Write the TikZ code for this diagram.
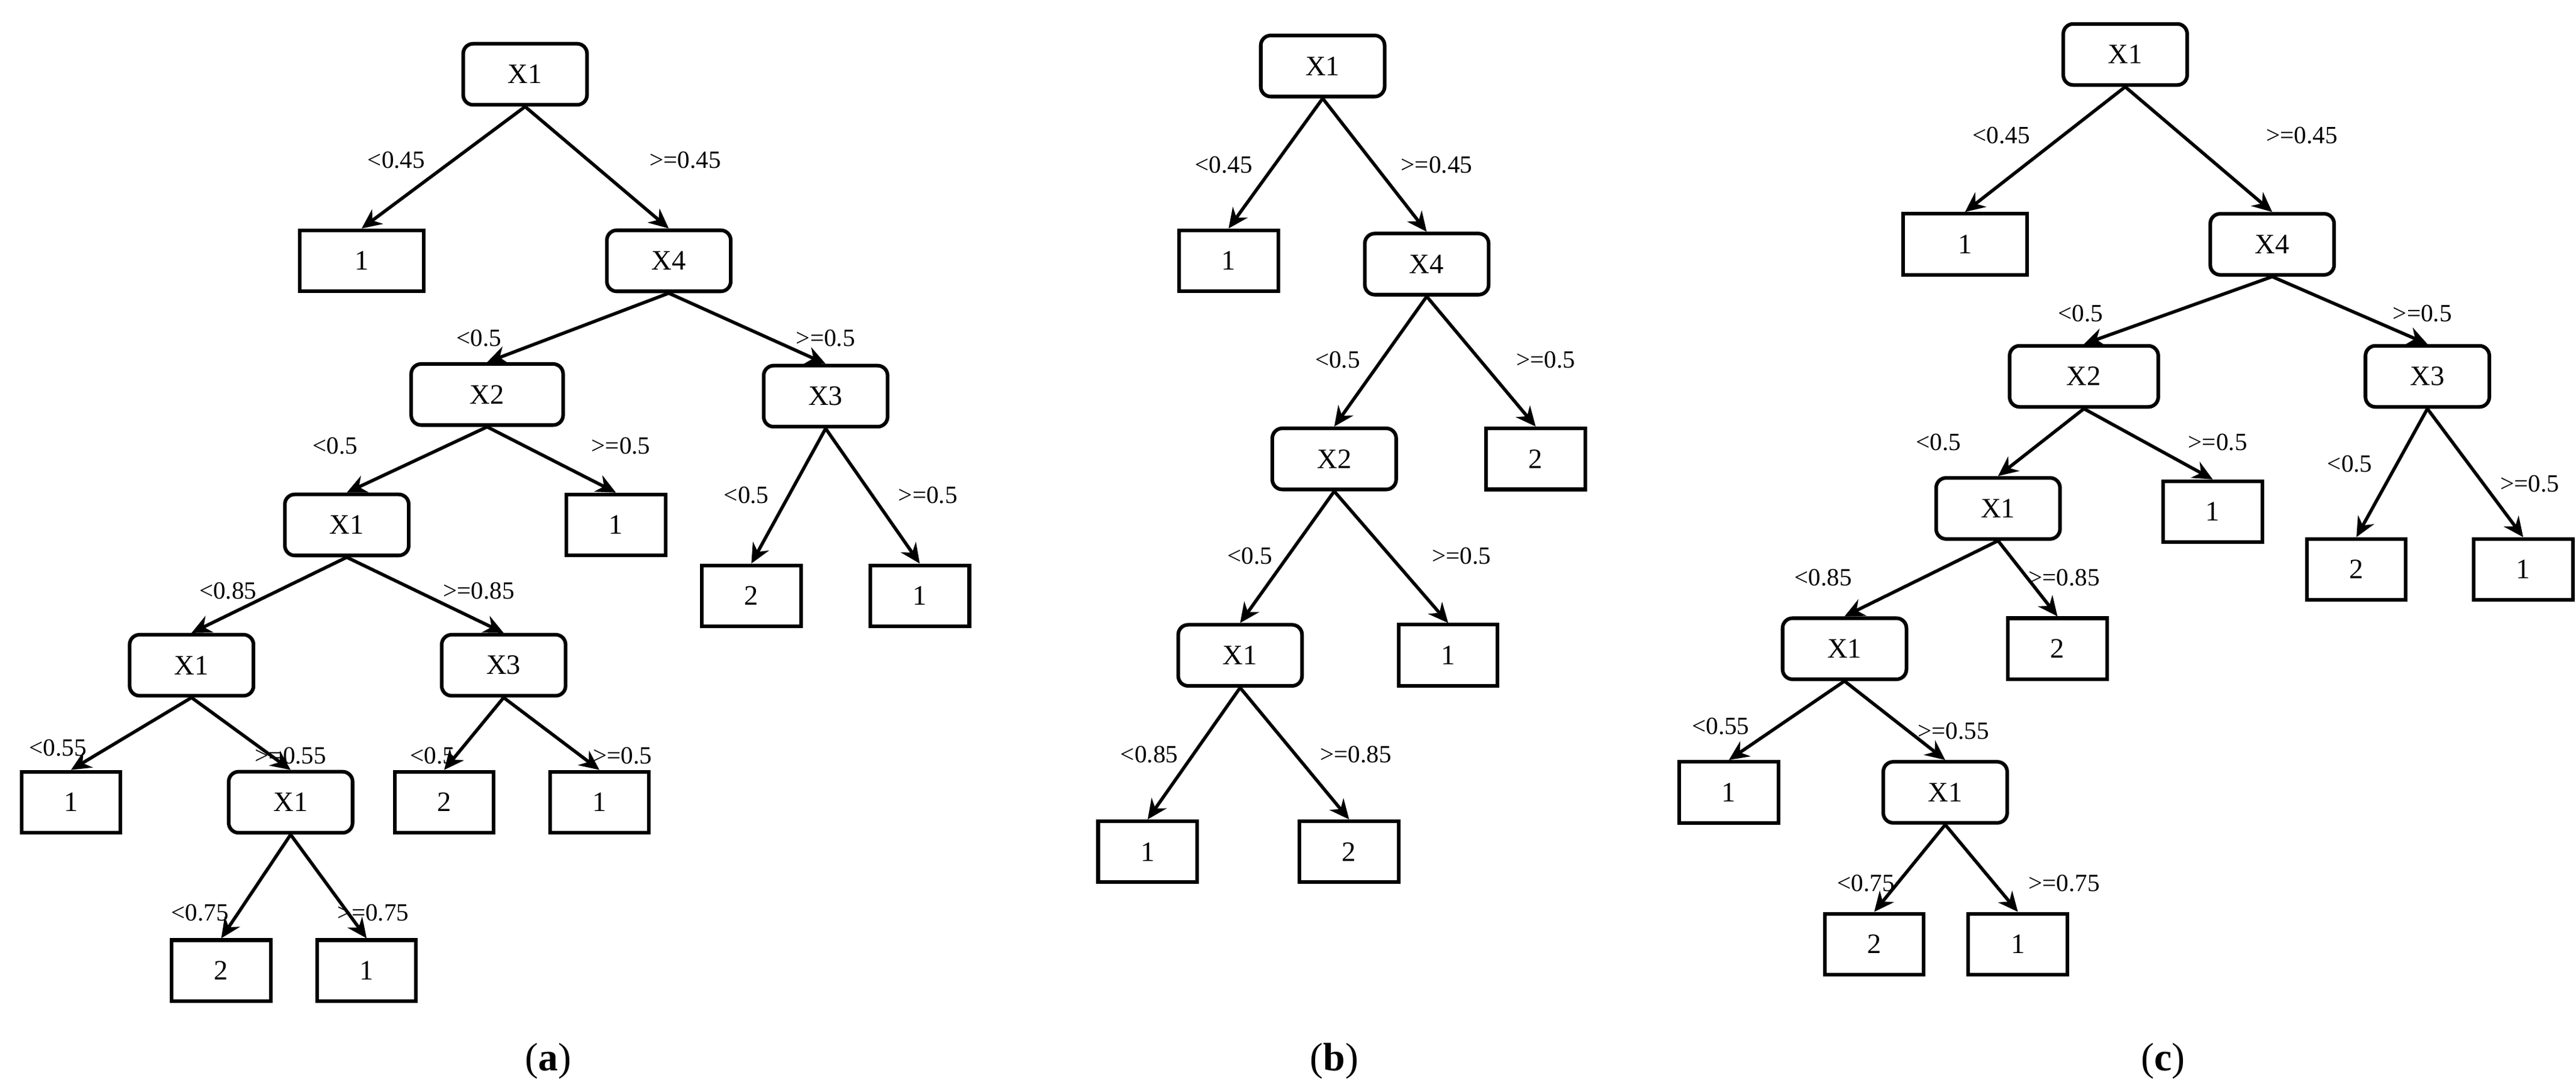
\documentclass[tikz,border=0pt]{standalone}
\usepackage{fontspec}
\setmainfont{Liberation Serif}
\usetikzlibrary{arrows.meta}
\begin{document}
\begin{tikzpicture}[x=1pt,y=-1pt,
  inner/.style={draw,line width=2.2pt,rounded corners=6pt,minimum width=75pt,minimum height=37pt,font=\fontsize{17}{17}\selectfont,inner sep=0pt},
  leaf/.style={draw,line width=2.2pt,minimum width=60pt,minimum height=37pt,font=\fontsize{17}{17}\selectfont,inner sep=0pt},
  wleaf/.style={leaf,minimum width=75pt},
  lab/.style={font=\fontsize{15}{15}\selectfont,inner sep=0pt},
  captxt/.style={font=\fontsize{24}{24}\selectfont},
  e/.style={-{Stealth[length=12pt,width=11pt]},line width=2pt}]
\useasboundingbox (0,0) rectangle (1560,661.5);
% (a)
\node[inner] (a0) at (318,45) {X1};
\node[wleaf] (a1) at (219,158) {1};
\node[inner] (a2) at (405,158) {X4};
\node[inner,minimum width=92pt] (a3) at (295,239) {X2};
\node[inner] (a4) at (500,240) {X3};
\node[leaf] (a5) at (373,318) {1};
\node[inner] (a6) at (210,318) {X1};
\node[leaf] (a7) at (455,361) {2};
\node[leaf] (a8) at (557,361) {1};
\node[inner] (a9) at (116,403) {X1};
\node[inner] (a10) at (305,403) {X3};
\node[leaf] (a11) at (43,486) {1};
\node[inner] (a12) at (176,486) {X1};
\node[leaf] (a13) at (269,486) {2};
\node[leaf] (a14) at (363,486) {1};
\node[leaf] (a15) at (134,588) {2};
\node[leaf] (a16) at (222,588) {1};
\foreach \p/\c in {a0/a1,a0/a2,a2/a3,a2/a4,a3/a6,a3/a5,a4/a7,a4/a8,a6/a9,a6/a10,a9/a11,a9/a12,a10/a13,a10/a14,a12/a15,a12/a16}
  \draw[e] (\p.south) -- (\c.north);
\node[lab] (la1) at (240,97) {<0.45};
\node[lab] (la2) at (415,97) {>=0.45};
\node[lab] (la3) at (290,205) {<0.5};
\node[lab] (la4) at (500,205) {>=0.5};
\node[lab] (la5) at (203,270) {<0.5};
\node[lab] (la6) at (376,270) {>=0.5};
\node[lab] (la7) at (452,300) {<0.5};
\node[lab] (la8) at (562,300) {>=0.5};
\node[lab] (la9) at (138,358) {<0.85};
\node[lab] (la10) at (290,358) {>=0.85};
\node[lab] (la11) at (35,453) {<0.55};
\node[lab] (la12) at (176,458) {>=0.55};
\node[lab] (la13) at (262,458) {<0.5};
\node[lab] (la14) at (377,458) {>=0.5};
\node[lab] (la15) at (121,553) {<0.75};
\node[lab] (la16) at (226,553) {>=0.75};
\node[captxt] (ca) at (332,643) {(\textbf{a})};
% (b)
\node[inner] (b0) at (801,40) {X1};
\node[leaf] (b1) at (744,158) {1};
\node[inner] (b2) at (864,160) {X4};
\node[inner] (b3) at (808,278) {X2};
\node[leaf] (b4) at (930,278) {2};
\node[inner] (b5) at (751,397) {X1};
\node[leaf] (b6) at (877,397) {1};
\node[leaf] (b7) at (695,516) {1};
\node[leaf] (b8) at (817,516) {2};
\foreach \p/\c in {b0/b1,b0/b2,b2/b3,b2/b4,b3/b5,b3/b6,b5/b7,b5/b8}
  \draw[e] (\p.south) -- (\c.north);
\node[lab] (lb1) at (741,100) {<0.45};
\node[lab] (lb2) at (870,100) {>=0.45};
\node[lab] (lb3) at (810,218) {<0.5};
\node[lab] (lb4) at (936,218) {>=0.5};
\node[lab] (lb5) at (757,337) {<0.5};
\node[lab] (lb6) at (885,337) {>=0.5};
\node[lab] (lb7) at (696,457) {<0.85};
\node[lab] (lb8) at (821,457) {>=0.85};
\node[captxt] (cb) at (808,643) {(\textbf{b})};
% (c)
\node[inner] (c0) at (1287,33) {X1};
\node[wleaf] (c1) at (1190,148) {1};
\node[inner] (c2) at (1376,148) {X4};
\node[inner,minimum width=90pt] (c3) at (1262,228) {X2};
\node[inner] (c4) at (1470,228) {X3};
\node[leaf] (c5) at (1340,310) {1};
\node[inner] (c6) at (1210,308) {X1};
\node[leaf] (c7) at (1427,345) {2};
\node[leaf] (c8) at (1528,345) {1};
\node[inner] (c9) at (1117,393) {X1};
\node[leaf] (c10) at (1246,393) {2};
\node[leaf] (c11) at (1047,480) {1};
\node[inner] (c12) at (1178,480) {X1};
\node[leaf] (c13) at (1135,572) {2};
\node[leaf] (c14) at (1222,572) {1};
\foreach \p/\c in {c0/c1,c0/c2,c2/c3,c2/c4,c3/c6,c3/c5,c4/c7,c4/c8,c6/c9,c6/c10,c9/c11,c9/c12,c12/c13,c12/c14}
  \draw[e] (\p.south) -- (\c.north);
\node[lab] (lc1) at (1212,82) {<0.45};
\node[lab] (lc2) at (1394,82) {>=0.45};
\node[lab] (lc3) at (1260,190) {<0.5};
\node[lab] (lc4) at (1467,190) {>=0.5};
\node[lab] (lc5) at (1174,268) {<0.5};
\node[lab] (lc6) at (1343,268) {>=0.5};
\node[lab] (lc7) at (1423,281) {<0.5};
\node[lab] (lc8) at (1532,293) {>=0.5};
\node[lab] (lc9) at (1104,350) {<0.85};
\node[lab] (lc10) at (1250,350) {>=0.85};
\node[lab] (lc11) at (1042,440) {<0.55};
\node[lab] (lc12) at (1183,443) {>=0.55};
\node[lab] (lc13) at (1130,535) {<0.75};
\node[lab] (lc14) at (1250,535) {>=0.75};
\node[captxt] (cc) at (1310,643) {(\textbf{c})};
\end{tikzpicture}
\end{document}
